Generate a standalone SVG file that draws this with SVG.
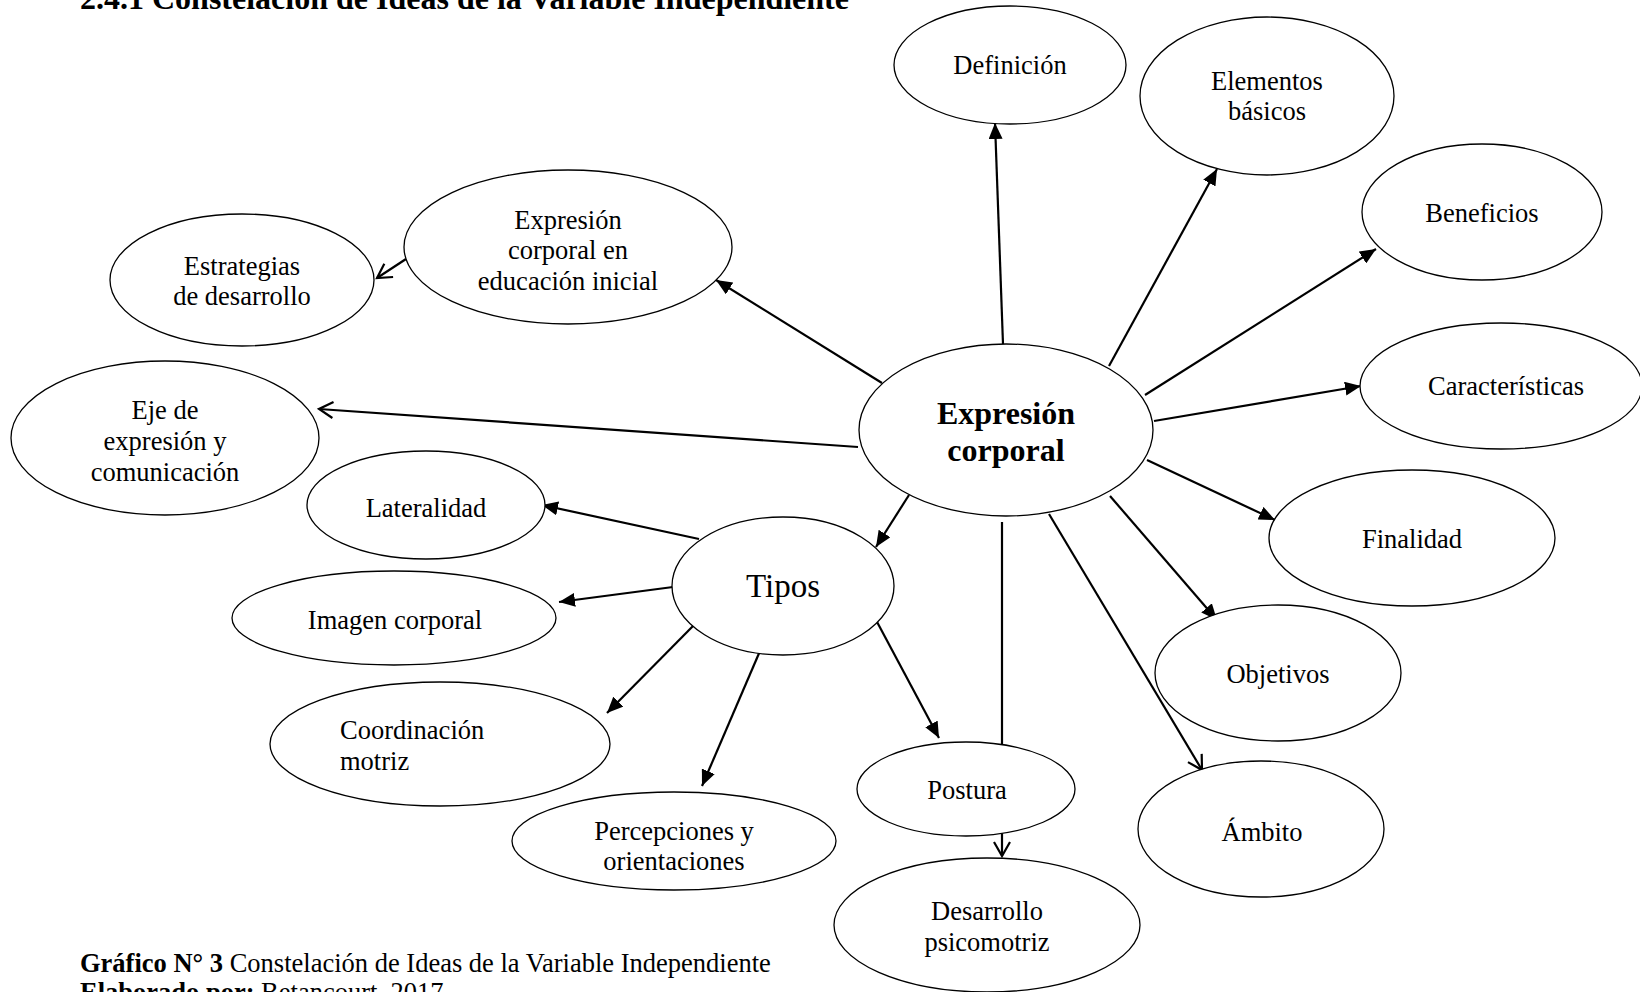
<svg xmlns="http://www.w3.org/2000/svg" width="1640" height="992" viewBox="0 0 1640 992">
<style>
.n ellipse{fill:#fff;stroke:#000;stroke-width:1.3}
text{font-family:"Liberation Serif","Times New Roman",serif;font-size:26.5px;fill:#000}
.c text,.n text{text-anchor:middle}
.e line{stroke:#000;stroke-width:2.2}
.f{marker-end:url(#af)}
.o{marker-end:url(#ao)}
</style>
<defs>
<marker id="af" markerUnits="userSpaceOnUse" markerWidth="18" markerHeight="14" refX="16" refY="7" orient="auto">
<path d="M0,0 L16,7 L0,14 Z" fill="#000"/>
</marker>
<marker id="ao" markerUnits="userSpaceOnUse" markerWidth="20" markerHeight="20" refX="16" refY="10" orient="auto">
<path d="M2,2 L16,10 L2,18" fill="none" stroke="#000" stroke-width="2.2"/>
</marker>
</defs>
<rect width="1640" height="992" fill="#fff"/>
<text x="80" y="9" style="font-weight:bold;font-size:32px">2.4.1 Constelación de Ideas de la Variable Independiente</text>
<text x="80" y="972"><tspan font-weight="bold">Gráfico N° 3</tspan> Constelación de Ideas de la Variable Independiente</text>
<text x="80" y="1001"><tspan font-weight="bold">Elaborado por:</tspan> Betancourt, 2017</text>

<g class="e">
<line class="o" x1="1002" y1="522" x2="1002" y2="856"/>
<line class="f" x1="1003" y1="344" x2="995" y2="123"/>
<line class="f" x1="1109" y1="366" x2="1217" y2="169"/>
<line class="f" x1="1145" y1="395" x2="1376" y2="249"/>
<line class="f" x1="1154" y1="421" x2="1361" y2="386"/>
<line class="f" x1="1147" y1="460" x2="1275" y2="520"/>
<line class="f" x1="1110" y1="496" x2="1217" y2="620"/>
<line class="o" x1="1049" y1="514" x2="1202" y2="770"/>
<line class="f" x1="909" y1="495" x2="876" y2="547"/>
<line class="o" x1="858" y1="447" x2="319" y2="409"/>
<line class="f" x1="882" y1="383" x2="716" y2="280"/>
<line class="o" x1="406" y1="259" x2="377" y2="278"/>
<line class="f" x1="699" y1="539" x2="542" y2="505"/>
<line class="f" x1="673" y1="587" x2="559" y2="602"/>
<line class="f" x1="694" y1="625" x2="607" y2="713"/>
<line class="f" x1="760" y1="651" x2="702" y2="786"/>
<line class="f" x1="876" y1="620" x2="939" y2="738"/>
</g>

<g class="n" id="n-central">
<ellipse cx="1006" cy="430" rx="147" ry="86" style="fill:none"/>
<text x="1006" y="424" style="font-weight:bold;font-size:32px">Expresión</text>
<text x="1006" y="461" style="font-weight:bold;font-size:32px">corporal</text>
</g>
<g class="n" id="n-definicion">
<ellipse cx="1010" cy="65" rx="116" ry="59"/>
<text x="1010" y="74">Definición</text>
</g>
<g class="n" id="n-elementos">
<ellipse cx="1267" cy="96" rx="127" ry="79"/>
<text x="1267" y="90">Elementos</text>
<text x="1267" y="120">básicos</text>
</g>
<g class="n" id="n-beneficios">
<ellipse cx="1482" cy="212" rx="120" ry="68"/>
<text x="1482" y="222">Beneficios</text>
</g>
<g class="n" id="n-caracteristicas">
<ellipse cx="1501" cy="386" rx="141" ry="63"/>
<text x="1506" y="395">Características</text>
</g>
<g class="n" id="n-finalidad">
<ellipse cx="1412" cy="538" rx="143" ry="68"/>
<text x="1412" y="548">Finalidad</text>
</g>
<g class="n" id="n-objetivos">
<ellipse cx="1278" cy="673" rx="123" ry="68"/>
<text x="1278" y="683">Objetivos</text>
</g>
<g class="n" id="n-ambito">
<ellipse cx="1261" cy="829" rx="123" ry="68"/>
<text x="1262" y="841">Ámbito</text>
</g>
<g class="n" id="n-desarrollo">
<ellipse cx="987" cy="925" rx="153" ry="67"/>
<text x="987" y="920">Desarrollo</text>
<text x="987" y="951">psicomotriz</text>
</g>
<g class="n" id="n-postura">
<ellipse cx="966" cy="789" rx="109" ry="47"/>
<text x="967" y="799">Postura</text>
</g>
<g class="n" id="n-percepciones">
<ellipse cx="674" cy="841" rx="162" ry="49"/>
<text x="674" y="840">Percepciones y</text>
<text x="674" y="870">orientaciones</text>
</g>
<g class="n" id="n-coordinacion">
<ellipse cx="440" cy="744" rx="170" ry="62"/>
<text x="340" y="739" style="text-anchor:start">Coordinación</text>
<text x="340" y="770" style="text-anchor:start">motriz</text>
</g>
<g class="n" id="n-imagen">
<ellipse cx="394" cy="618" rx="162" ry="47"/>
<text x="395" y="629">Imagen corporal</text>
</g>
<g class="n" id="n-lateralidad">
<ellipse cx="426" cy="505" rx="119" ry="54"/>
<text x="426" y="517">Lateralidad</text>
</g>
<g class="n" id="n-tipos">
<ellipse cx="783" cy="586" rx="111" ry="69"/>
<text x="783" y="597" style="font-size:33px">Tipos</text>
</g>
<g class="n" id="n-eje">
<ellipse cx="165" cy="438" rx="154" ry="77"/>
<text x="165" y="419">Eje de</text>
<text x="165" y="450">expresión y</text>
<text x="165" y="481">comunicación</text>
</g>
<g class="n" id="n-estrategias">
<ellipse cx="242" cy="280" rx="132" ry="66"/>
<text x="242" y="275">Estrategias</text>
<text x="242" y="305">de desarrollo</text>
</g>
<g class="n" id="n-educacion">
<ellipse cx="568" cy="247" rx="164" ry="77"/>
<text x="568" y="229">Expresión</text>
<text x="568" y="259">corporal en</text>
<text x="568" y="290">educación inicial</text>
</g>
</svg>
